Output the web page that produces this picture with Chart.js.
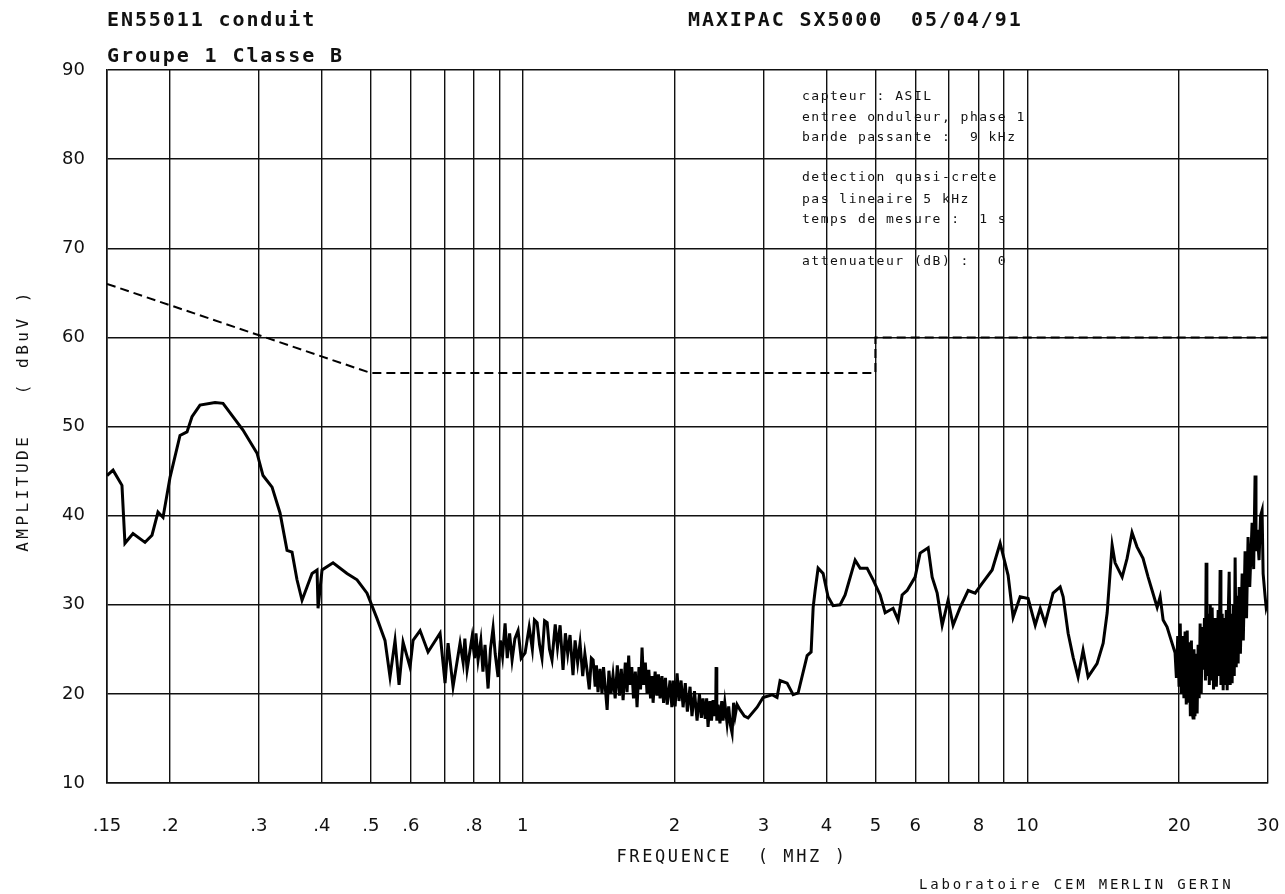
<!DOCTYPE html>
<html>
<head>
<meta charset="utf-8">
<script src="https://cdn.jsdelivr.net/npm/chart.js@4.4.0/dist/chart.umd.min.js"></script>
<style>
  html, body { margin: 0; padding: 0; background: #fff; }
  #wrap { width: 1285px; height: 894px; }
</style>
</head>
<body>
<div id="wrap"><canvas id="emc"></canvas></div>
<script>
// frequency grid (MHz) and the labels printed under it
const tickFreqs  = [0.15, 0.2, 0.3, 0.4, 0.5, 0.6, 0.7, 0.8, 0.9, 1, 2, 3, 4, 5, 6, 7, 8, 9, 10, 20, 30];
const tickLabels = ['.15', '.2', '.3', '.4', '.5', '.6', '', '.8', '', '1', '2', '3', '4', '5', '6', '', '8', '', '10', '20', '30'];
const ampTicks   = [10, 20, 30, 40, 50, 60, 70, 80, 90];

// EN55011 group 1 class B quasi-peak limit
const limitFreq = [0.15, 0.5, 5, 5, 30];
const limitAmp  = [66, 56, 56, 60, 60];

const traceFreq = [
  // .15 - .5
  0.150, 0.1542, 0.1606, 0.1628, 0.1689, 0.1784, 0.1842, 0.1893, 0.1937, 0.2000,
  0.2093, 0.2161, 0.2211, 0.2293, 0.2456, 0.2547, 0.2790, 0.2975, 0.3057, 0.3186,
  0.3304, 0.3411, 0.3490, 0.3570, 0.3653, 0.3824, 0.3912, 0.3930, 0.4002, 0.4208,
  0.4485, 0.4695, 0.4914, 0.514,
  // .5 - .75
  0.5334, 0.5458, 0.5584, 0.5688, 0.5793, 0.598, 0.6063, 0.626, 0.6492, 0.6858,
  0.7016, 0.7113, 0.7277, 0.7513,
  // .75 - 1
  0.762, 0.768, 0.7758, 0.7937, 0.803, 0.808, 0.8157, 0.826, 0.834, 0.842,
  0.8538, 0.863, 0.8735, 0.882, 0.8936, 0.903, 0.912, 0.9227, 0.932, 0.942,
  0.9527, 0.965, 0.979, 0.993, 1.011,
  // 1 - 1.3
  1.03, 1.045, 1.055, 1.068, 1.08, 1.092, 1.105, 1.118, 1.13, 1.143,
  1.16, 1.172, 1.186, 1.202, 1.215, 1.228, 1.241, 1.258, 1.27, 1.285,
  1.299,
  // 1.3 - 2
  1.315, 1.328, 1.341, 1.355, 1.368, 1.379, 1.392, 1.40, 1.410, 1.423,
  1.436, 1.446, 1.456, 1.470, 1.482, 1.496, 1.510, 1.525, 1.540, 1.555,
  1.568, 1.581, 1.597, 1.610, 1.622, 1.632, 1.645, 1.658, 1.672, 1.685,
  1.700, 1.712, 1.724, 1.737, 1.750, 1.764, 1.778, 1.792, 1.806, 1.813,
  1.830, 1.845, 1.858, 1.872, 1.888, 1.902, 1.918, 1.934, 1.959, 1.975,
  1.99, 2.005,
  // 2 - 2.8
  2.023, 2.041, 2.06, 2.079, 2.1, 2.12, 2.146, 2.165, 2.19, 2.216,
  2.24, 2.26, 2.277, 2.30, 2.315, 2.330, 2.35, 2.367, 2.384, 2.40,
  2.413, 2.417, 2.425, 2.439, 2.46, 2.48, 2.495, 2.515, 2.541, 2.56,
  2.58, 2.600, 2.618, 2.636, 2.66, 2.697, 2.75, 2.797,
  // 2.9 - 19
  2.915, 2.995, 3.120, 3.192, 3.237, 3.342, 3.435, 3.514, 3.662, 3.729,
  3.764, 3.798, 3.850, 3.939, 4.029, 4.122, 4.257, 4.355, 4.559, 4.665,
  4.815, 4.949, 5.110, 5.228, 5.421, 5.547, 5.649, 5.779, 5.994, 6.133,
  6.362, 6.479, 6.629, 6.782, 6.968, 7.129, 7.361, 7.635, 7.883, 8.139,
  8.519, 8.835, 9.163, 9.375, 9.680, 10.04, 10.37, 10.61, 10.85, 11.25,
  11.62, 11.78, 12.05, 12.33, 12.61, 12.90, 13.20, 13.75, 14.14, 14.40,
  14.73, 14.93, 15.42, 15.77, 16.13, 16.50, 16.96, 17.36, 17.68, 18.09,
  18.34, 18.59, 18.93, 19.19,
  // 19.5 - 30
  19.63, 19.75, 19.87, 19.99, 20.10, 20.20, 20.32, 20.44, 20.55, 20.66,
  20.75, 20.84, 20.95, 21.05, 21.15, 21.22, 21.31, 21.40, 21.50, 21.60,
  21.71, 21.81, 21.91, 22.01, 22.12, 22.22, 22.32, 22.45, 22.55, 22.62,
  22.70, 22.83, 22.95, 23.05, 23.15, 23.25, 23.40, 23.57, 23.70, 23.90,
  24.00, 24.11, 24.20, 24.34, 24.45, 24.55, 24.67, 24.80, 24.90, 25.00,
  25.13, 25.25, 25.36, 25.47, 25.60, 25.72, 25.82, 25.95, 26.05, 26.18,
  26.30, 26.45, 26.66, 26.80, 27.02, 27.2, 27.39, 27.6, 27.90, 28.1,
  28.28, 28.4, 28.54, 28.8, 29.0, 29.20, 29.34, 29.6, 29.75, 30.0
];
const traceAmp = [
  // .15 - .5
  44.5, 45.1, 43.4, 36.9, 38.0, 37.0, 37.8, 40.4, 39.8, 44.3,
  49.0, 49.4, 51.1, 52.4, 52.7, 52.6, 49.6, 47.0, 44.5, 43.2,
  40.3, 36.1, 35.9, 32.8, 30.5, 33.5, 33.9, 29.6, 33.9, 34.7,
  33.5, 32.8, 31.3, 28.5,
  // .5 - .75
  26.0, 21.9, 26.0, 21.0, 25.8, 23.0, 26.0, 27.1, 24.7, 26.8,
  21.2, 25.7, 20.8, 25.7,
  // .75 - 1
  23.5, 26.2, 22.7, 26.4, 24.0, 26.8, 23.8, 26.0, 22.5, 25.5,
  20.6, 25.0, 27.4, 24.5, 21.9, 26.0, 24.2, 27.9, 24.0, 26.8,
  23.8, 26.2, 27.1, 24.0, 24.6,
  // 1 - 1.3
  27.5, 25.0, 28.3, 28.0, 25.5, 24.0, 28.2, 28.0, 25.0, 23.8,
  27.8, 25.2, 27.7, 22.7, 26.8, 24.5, 26.6, 22.1, 26.0, 23.5,
  25.7,
  // 1.3 - 2
  22.0, 24.5, 22.7, 20.5, 24.0, 23.8, 20.8, 23.2, 20.2, 22.8,
  20.0, 23.0, 21.0, 18.2, 22.6, 20.0, 22.1, 19.5, 23.2, 19.8,
  22.8, 19.3, 23.5, 20.2, 24.3, 21.0, 23.0, 19.5, 22.5, 18.5,
  23.0, 20.5, 25.2, 21.0, 23.5, 20.0, 22.7, 19.5, 22.0, 19.0,
  22.5, 19.8, 22.2, 19.5, 22.0, 19.0, 21.8, 18.8, 21.5, 18.5,
  21.5, 18.6,
  // 2 - 2.8
  22.3, 19.2, 21.5, 18.5, 21.2, 18.0, 20.8, 17.5, 20.3, 17.0,
  20.0, 17.3, 19.5, 17.2, 19.5, 16.3, 19.2, 17.0, 19.3, 17.5,
  18.8, 23.0, 17.0, 18.8, 16.7, 19.2, 17.0, 19.0, 16.7, 18.6,
  16.5, 15.6, 19.0, 17.5, 18.8, 18.2, 17.5, 17.3,
  // 2.9 - 19
  18.5, 19.6, 19.9, 19.6, 21.5, 21.2, 19.9, 20.1, 24.3, 24.7,
  29.7, 31.6, 34.1, 33.5, 30.9, 29.9, 30.0, 31.1, 35.0, 34.1,
  34.1, 32.8, 31.1, 29.1, 29.6, 28.3, 31.1, 31.6, 33.1, 35.8,
  36.4, 33.1, 31.3, 27.7, 30.5, 27.7, 29.7, 31.6, 31.3, 32.4,
  33.9, 36.9, 33.3, 28.6, 30.9, 30.7, 27.7, 29.6, 27.9, 31.3,
  32.0, 30.9, 26.8, 24.1, 21.9, 24.9, 21.9, 23.4, 25.7, 29.1,
  36.7, 34.7, 33.1, 35.2, 38.1, 36.5, 35.2, 33.1, 31.6, 29.7,
  30.9, 28.3, 27.5, 26.4,
  // 19.5 - 30
  24.6, 21.8, 26.5, 20.8, 27.9, 20.0, 26.5, 19.5, 27.0, 18.8,
  27.1, 19.0, 25.8, 17.5, 26.0, 18.0, 17.3, 25.0, 17.5, 24.5,
  17.8, 25.5, 19.5, 27.9, 20.0, 27.5, 22.7, 28.5, 21.5, 34.7,
  22.0, 29.0, 21.0, 30.0, 21.5, 29.7, 20.5, 28.5, 20.8, 29.4,
  22.0, 33.9, 21.0, 29.0, 20.4, 28.5, 21.0, 29.4, 20.4, 28.0,
  33.7, 21.0, 29.0, 21.2, 30.0, 22.0, 35.3, 23.0, 31.0, 23.4,
  32.0, 24.5, 33.5, 26.0, 36.0, 28.5, 37.6, 32.0, 39.2, 34.0,
  44.5, 36.0, 38.4, 35.0, 40.0, 40.6, 33.5, 31.0, 29.7, 30.5
];

const headerLeft  = ['EN55011 conduit', 'Groupe 1 Classe B'];
const headerRight = 'MAXIPAC SX5000  05/04/91';
const notes = [
  'capteur : ASIL',
  'entree onduleur, phase 1',
  'bande passante :  9 kHz',
  'detection quasi-crete',
  'pas lineaire 5 kHz',
  'temps de mesure :  1 s',
  'attenuateur (dB) :   0'
];
const xTitle = 'FREQUENCE  ( MHZ )';
const yTitle = 'AMPLITUDE   ( dBuV )';
const footer = 'Laboratoire CEM MERLIN GERIN';

const ink = '#111';

const plotterText = {
  id: 'plotterText',
  afterDraw(chart) {
    const { ctx, chartArea } = chart;
    ctx.save();
    ctx.fillStyle = ink;
    ctx.textBaseline = 'middle';

    ctx.font = 'bold 20px "DejaVu Sans Mono"';
    ctx.letterSpacing = '1.9px';
    ctx.fillText(headerLeft[0], chartArea.left, 21);
    ctx.fillText(headerLeft[1], chartArea.left, 57);
    ctx.fillText(headerRight, 688, 21);

    ctx.font = '13px "DejaVu Sans Mono"';
    ctx.letterSpacing = '1.5px';
    const noteY = [97, 118, 138, 178, 200, 220, 262];
    notes.forEach((t, i) => ctx.fillText(t, 802, noteY[i]));

    ctx.font = '17px "DejaVu Sans Mono"';
    ctx.letterSpacing = '2.6px';
    ctx.textAlign = 'center';
    ctx.fillText(xTitle, 732, 858);

    ctx.font = '14px "DejaVu Sans Mono"';
    ctx.letterSpacing = '2.8px';
    ctx.textAlign = 'left';
    ctx.fillText(footer, 919, 885);

    ctx.translate(24, (chartArea.top + chartArea.bottom) / 2 - 6);
    ctx.rotate(-Math.PI / 2);
    ctx.font = '16px "DejaVu Sans Mono"';
    ctx.letterSpacing = '3.5px';
    ctx.textAlign = 'center';
    ctx.fillText(yTitle, 0, 0);
    ctx.restore();
  }
};

new Chart(document.getElementById('emc'), {
  type: 'line',
  data: {
    datasets: [{
      label: 'mesure',
      data: traceFreq.map((f, i) => ({ x: f, y: traceAmp[i] })),
      borderColor: '#000',
      borderWidth: 3,
      pointRadius: 0,
      tension: 0,
    }, {
      label: 'limite',
      data: limitFreq.map((f, i) => ({ x: f, y: limitAmp[i] })),
      borderColor: '#000',
      borderWidth: 2,
      borderDash: [9, 5],
      pointRadius: 0,
      tension: 0,
    }],
  },
  options: {
    responsive: true,
    maintainAspectRatio: false,
    animation: false,
    devicePixelRatio: 1,
    layout: { padding: { top: 70, right: 17, bottom: 0, left: 0 } },
    plugins: {
      legend: { display: false },
      tooltip: { enabled: false },
    },
    scales: {
      x: {
        type: 'logarithmic',
        min: 0.15,
        max: 30,
        afterBuildTicks: (scale) => {
          scale.ticks = tickFreqs.map(v => ({ value: v }));
        },
        afterFit: (scale) => {
          scale.height = 111;
          scale.paddingLeft = 0;
          scale.paddingRight = 0;
        },
        grid: { color: ink, lineWidth: 1.4, drawTicks: false },
        border: { color: ink, width: 1.6 },
        ticks: {
          autoSkip: false,
          maxRotation: 0,
          padding: 33,
          color: ink,
          font: { family: 'DejaVu Sans', size: 18 },
          callback: (value, index) => tickLabels[index],
        },
      },
      y: {
        min: 10,
        max: 90,
        afterBuildTicks: (scale) => {
          scale.ticks = ampTicks.map(v => ({ value: v }));
        },
        afterFit: (scale) => { scale.width = 107; },
        grid: { color: ink, lineWidth: 1.4, drawTicks: false },
        border: { color: ink, width: 1.6 },
        ticks: {
          padding: 22,
          color: ink,
          font: { family: 'DejaVu Sans', size: 18 },
        },
      },
    },
  },
  plugins: [plotterText],
});
</script>
</body>
</html>
